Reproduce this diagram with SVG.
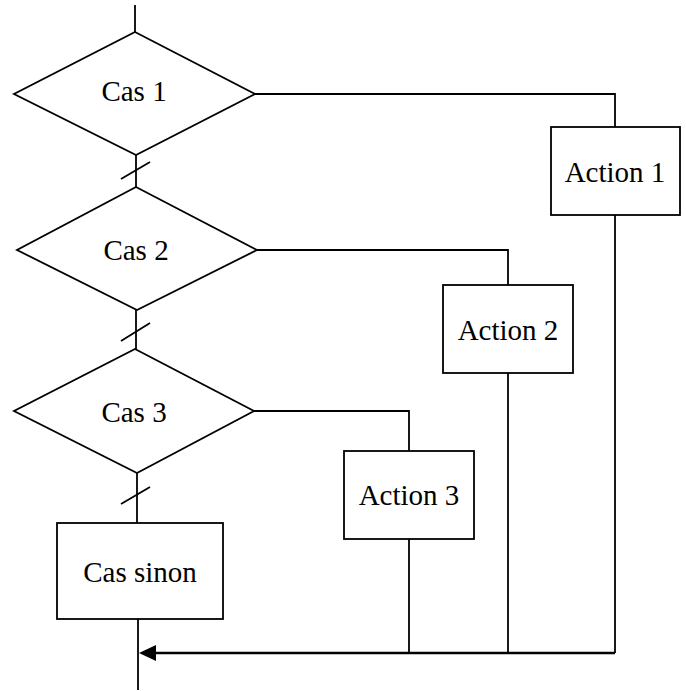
<svg xmlns="http://www.w3.org/2000/svg" width="686" height="691" viewBox="0 0 686 691">
  <style>
    .shape { fill: #ffffff; stroke: #000000; stroke-width: 1.8; }
    .wire { fill: none; stroke: #000000; stroke-width: 1.8; }
    .bus { fill: none; stroke: #000000; stroke-width: 2.4; }
    text { fill: #000000; text-anchor: middle; }
  </style>

  <rect width="686" height="691" fill="#ffffff"/>

  <g id="connectors">
    <!-- main vertical flow -->
    <line class="wire" x1="135" y1="5" x2="135" y2="32"/>
    <line class="wire" x1="136" y1="155" x2="136" y2="187"/>
    <line class="wire" x1="136" y1="310" x2="136" y2="349"/>
    <line class="wire" x1="137" y1="473" x2="137" y2="523"/>
    <line class="wire" x1="138" y1="619" x2="138" y2="690"/>
    <!-- slash marks on the "no" branches -->
    <line class="wire" x1="121" y1="179" x2="150" y2="162"/>
    <line class="wire" x1="121" y1="341" x2="150" y2="323"/>
    <line class="wire" x1="121" y1="504" x2="150" y2="487"/>
    <!-- "yes" branches to the actions -->
    <polyline class="wire" points="255,94 615,94 615,127"/>
    <polyline class="wire" points="257,250 508,250 508,285"/>
    <polyline class="wire" points="254,411 409,411 409,451"/>
    <!-- returns from the actions -->
    <line class="wire" x1="615" y1="215" x2="615" y2="653"/>
    <line class="wire" x1="508" y1="373" x2="508" y2="653"/>
    <line class="wire" x1="409" y1="539" x2="409" y2="653"/>
    <line class="bus" x1="615" y1="653" x2="156" y2="653"/>
    <path d="M139,653 L156,645 L156,661 Z" fill="#000000"/>
  </g>

  <g font-family="Liberation Serif, Times New Roman, serif" font-size="29">
    <g id="cas1">
      <polygon class="shape" points="135,32 255,94 136,155 14,94"/>
      <text x="134" y="101">Cas 1</text>
    </g>
    <g id="cas2">
      <polygon class="shape" points="136,187 257,250 137,310 17,250"/>
      <text x="136" y="260">Cas 2</text>
    </g>
    <g id="cas3">
      <polygon class="shape" points="135,349 254,411 137,473 14,411"/>
      <text x="134" y="422">Cas 3</text>
    </g>
    <g id="action1">
      <rect class="shape" x="551" y="127" width="129" height="88"/>
      <text x="615" y="182">Action 1</text>
    </g>
    <g id="action2">
      <rect class="shape" x="443" y="285" width="130" height="88"/>
      <text x="508" y="340">Action 2</text>
    </g>
    <g id="action3">
      <rect class="shape" x="344" y="451" width="130" height="88"/>
      <text x="409" y="505">Action 3</text>
    </g>
    <g id="cas-sinon">
      <rect class="shape" x="57" y="523" width="166" height="96"/>
      <text x="140" y="582">Cas sinon</text>
    </g>
  </g>
</svg>
